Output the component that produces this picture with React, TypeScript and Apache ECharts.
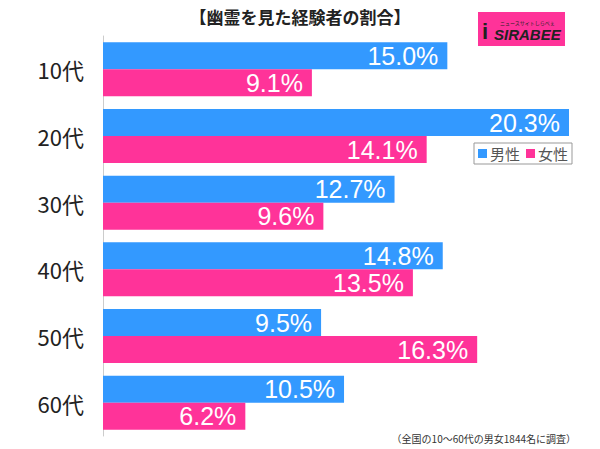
import React, { useEffect, useRef } from "react";
import * as echarts from "echarts";

const categories = ["10代", "20代", "30代", "40代", "50代", "60代"];
const male = [15.0, 20.3, 12.7, 14.8, 9.5, 10.5];
const female = [9.1, 14.1, 9.6, 13.5, 16.3, 6.2];
const seriesNames = ["男性", "女性"];
const title = "【幽霊を見た経験者の割合】";
const footnote = "（全国の10～60代の男女1844名に調査）";

export default function App() {
  const ref = useRef<HTMLDivElement>(null);
  useEffect(() => {
    if (!ref.current) return;
    const chart = echarts.init(ref.current, undefined, { renderer: "svg" });
    const label = {
      show: true,
      position: "insideRight",
      distance: 9,
      color: "#fff",
      fontSize: 25,
      fontFamily: "Liberation Sans, Arial, sans-serif",
      formatter: (p: any) => p.value.toFixed(1) + "%",
    };
    chart.setOption({
      animation: false,
      backgroundColor: "#fff",
      title: {
        text: title,
        left: "center",
        top: 3,
        textStyle: { fontSize: 17, fontWeight: "bold", color: "#222", fontFamily: "Noto Sans CJK JP" },
      },
      legend: {
        data: seriesNames,
        left: 474,
        top: 143,
        orient: "horizontal",
        icon: "rect",
        itemWidth: 9,
        itemHeight: 9,
        itemGap: 6,
        padding: [3, 4, 3, 4],
        borderColor: "#999",
        borderWidth: 1,
        textStyle: { fontSize: 15, color: "#555", fontFamily: "Noto Sans CJK JP", padding: [0, 0, 0, -2] },
      },
      grid: { left: 103, top: 36, width: 466, height: 400, containLabel: false },
      xAxis: {
        type: "value",
        min: 0,
        max: 20.3,
        show: false,
      },
      yAxis: {
        type: "category",
        data: categories,
        inverse: true,
        axisLine: { show: true, lineStyle: { color: "#ccc", width: 1 } },
        axisTick: { show: false },
        axisLabel: { fontSize: 22, color: "#222", margin: 19, fontFamily: "Noto Sans CJK JP" },
      },
      series: [
        {
          name: seriesNames[0],
          type: "bar",
          data: male,
          barCategoryGap: "19%",
          barGap: "0%",
          itemStyle: { color: "#3399ff" },
          label,
        },
        {
          name: seriesNames[1],
          type: "bar",
          data: female,
          barCategoryGap: "19%",
          barGap: "0%",
          itemStyle: { color: "#ff3399" },
          label,
        },
      ],
      graphic: [
        {
          type: "text",
          right: 24,
          top: 433,
          style: { text: footnote, fontSize: 10, fill: "#333", fontFamily: "Noto Sans CJK JP" },
        },
        {
          type: "group",
          left: 478,
          top: 12,
          children: [
            { type: "rect", shape: { x: 0, y: 0, width: 87, height: 34 }, style: { fill: "#ff3399" } },
            {
              type: "text",
              x: 22,
              y: 8,
              style: { text: "ニュースサイトしらべぇ", fontSize: 5, fill: "#222", fontFamily: "Noto Sans CJK JP" },
            },
            {
              type: "text",
              x: 4,
              y: 8,
              style: { text: "i", fontSize: 22, fontWeight: "bold", fill: "#222", fontFamily: "Liberation Sans" },
            },
            {
              type: "text",
              x: 16,
              y: 15,
              style: { text: "SIRABEE", fontSize: 15, fontWeight: "bold", fontStyle: "italic", fill: "#222", fontFamily: "Liberation Sans" },
            },
          ],
        },
      ],
    });
    return () => chart.dispose();
  }, []);
  return <div ref={ref} style={{ width: 600, height: 449, position: "absolute", left: 0, top: 0 }} />;
}
